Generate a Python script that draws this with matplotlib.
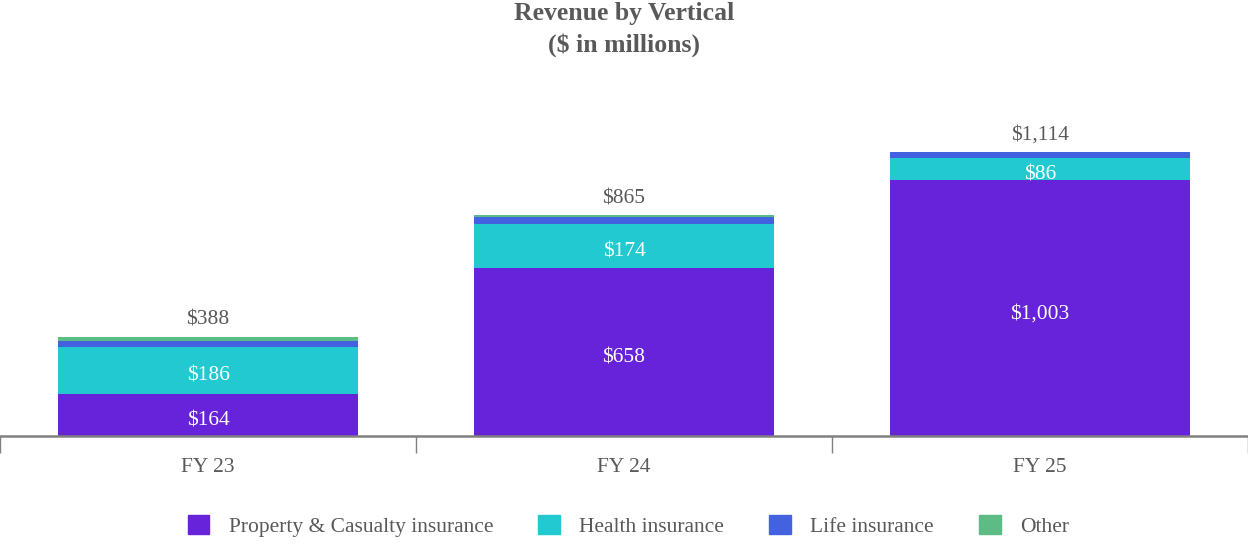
import matplotlib.pyplot as plt
import numpy as np
from matplotlib.patches import Patch

years = ['FY 23', 'FY 24', 'FY 25']
property_casualty = [164, 658, 1003]
health = [186, 174, 86]
life = [23, 26, 25]
other = [15, 7, 0]
totals = [388, 865, 1114]

series = [
    ('Property & Casualty insurance', property_casualty, '#6623D9'),
    ('Health insurance', health, '#22C9D0'),
    ('Life insurance', life, '#4262E0'),
    ('Other', other, '#5DBB85'),
]
labelled = (0, 1)  # series that get a value label inside the bar

plt.rcParams['font.family'] = ['Liberation Serif', 'DejaVu Serif']
grey = '#595959'
fs = 15.5

fig = plt.figure(figsize=(12.48, 5.48), dpi=100)
ax = fig.add_axes([0, 1 - 436 / 548, 1, 336 / 548])

x = np.arange(len(years))
width = 0.72
bottom = np.zeros(len(years))
for i, (name, vals, color) in enumerate(series):
    vals = np.array(vals, dtype=float)
    ax.bar(x, vals, width, bottom=bottom, color=color, label=name)
    if i in labelled:
        for xi, b, v in zip(x, bottom, vals):
            ax.text(xi, b + v / 2 - 22, f'${v:,.0f}', ha='center', va='center',
                    color='white', fontsize=fs)
    bottom += vals

for xi, t in zip(x, totals):
    ax.text(xi, t + 28, f'${t:,}', ha='center', va='bottom', color=grey, fontsize=fs)

ax.set_xlim(-0.5, 2.5)
ax.set_ylim(0, 1318)
ax.set_yticks([])
for s in ['top', 'right', 'left']:
    ax.spines[s].set_visible(False)
ax.spines['bottom'].set_color('#808080')
ax.spines['bottom'].set_linewidth(1.8)

ax.set_xticks(x)
ax.set_xticklabels(years, color=grey, fontsize=fs)
ax.tick_params(axis='x', which='major', length=0, pad=16)
ax.set_xticks([-0.5, 0.5, 1.5, 2.5], minor=True)
ax.tick_params(axis='x', which='minor', length=12, color='#808080', width=1)

fig.text(0.5, 1 - 2 / 548, 'Revenue by Vertical\n($ in millions)', ha='center', va='top',
         fontsize=18.5, fontweight='bold', color=grey, linespacing=1.42)

handles = [Patch(color=c, label=n) for n, _, c in series]
fig.legend(handles=handles, loc='center', bbox_to_anchor=(0.5036, 1 - 526 / 548), ncol=4,
           frameon=False, fontsize=fs, handlelength=1.0, handleheight=1.0,
           columnspacing=2.1, handletextpad=0.9, labelcolor=grey)

fig.savefig('out.png', dpi=100)
